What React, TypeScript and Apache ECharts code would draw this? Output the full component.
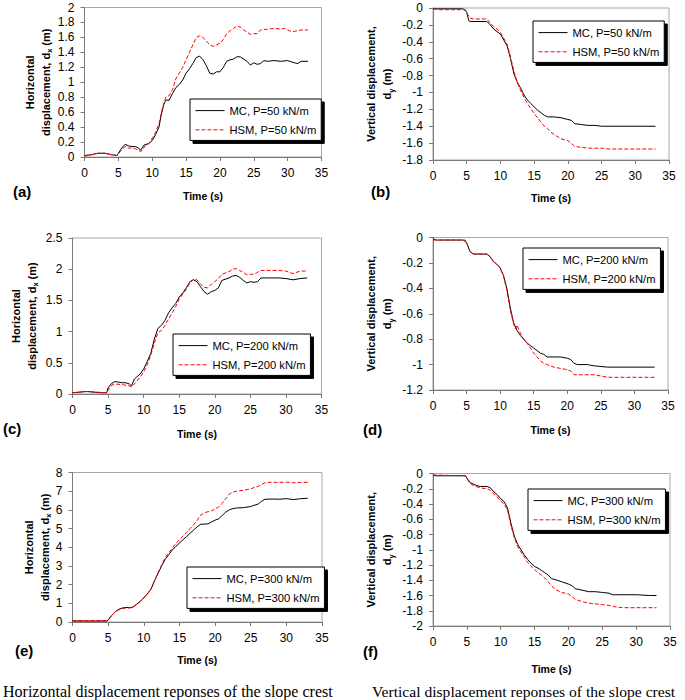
import React, { useEffect, useRef } from "react";
import * as echarts from "echarts";

// ---------------- DATA (time s, displacement m) ----------------
const timeTicks = [0, 5, 10, 15, 20, 25, 30, 35];

const aMC: [number, number][] = [[0,0.02],[1,0.03],[2,0.05],[3,0.05],[4,0.03],[4.8,0.02],[5,0.05],[5.5,0.12],[6,0.17],[6.5,0.15],[7,0.14],[7.5,0.14],[8,0.12],[8.3,0.09],[8.8,0.16],[9.5,0.18],[10,0.22],[10.5,0.3],[11,0.4],[11.3,0.55],[11.7,0.7],[12,0.76],[12.5,0.76],[13,0.85],[13.5,0.93],[14,0.97],[14.5,1.03],[15,1.12],[15.5,1.18],[16,1.25],[16.5,1.33],[17,1.35],[17.5,1.3],[18,1.22],[18.5,1.12],[19,1.11],[19.5,1.14],[20,1.14],[20.5,1.2],[21,1.28],[21.5,1.3],[22,1.31],[22.5,1.34],[23,1.34],[23.5,1.31],[24,1.28],[24.5,1.23],[25,1.26],[25.5,1.24],[26,1.25],[26.5,1.29],[27,1.28],[28,1.29],[29,1.28],[30,1.29],[31,1.26],[31.5,1.25],[32,1.28],[33,1.28]];
const aHSM: [number, number][] = [[0,0.01],[1,0.03],[2,0.05],[3,0.05],[4,0.03],[4.8,0.02],[5,0.04],[5.5,0.1],[6,0.14],[6.5,0.12],[7,0.12],[7.5,0.11],[8,0.09],[8.3,0.07],[9,0.15],[9.5,0.18],[10,0.25],[10.5,0.33],[11,0.45],[11.5,0.65],[12,0.8],[12.5,0.82],[13,0.9],[13.5,1.05],[14,1.12],[14.5,1.2],[15,1.3],[15.5,1.4],[16,1.5],[16.5,1.6],[17,1.62],[17.5,1.6],[18,1.55],[18.5,1.5],[19,1.48],[19.5,1.5],[20,1.52],[20.5,1.57],[21,1.65],[21.5,1.69],[22,1.72],[22.5,1.75],[23,1.74],[23.5,1.7],[24,1.67],[24.5,1.64],[25,1.65],[25.5,1.65],[26,1.7],[27,1.71],[28,1.72],[29,1.71],[29.5,1.72],[30,1.7],[30.5,1.68],[31,1.68],[32,1.7],[33,1.7]];

const bMC: [number, number][] = [[0,-0.01],[4.5,-0.01],[5,-0.05],[5.3,-0.15],[5.5,-0.16],[8,-0.16],[8.5,-0.2],[9,-0.25],[9.5,-0.28],[10,-0.31],[10.5,-0.38],[11,-0.45],[11.5,-0.6],[12,-0.78],[12.5,-0.88],[13,-0.95],[13.5,-1.03],[14,-1.09],[14.5,-1.13],[15,-1.17],[15.5,-1.21],[16,-1.24],[16.5,-1.27],[17,-1.29],[18,-1.29],[19,-1.3],[20,-1.32],[20.5,-1.33],[21,-1.37],[22,-1.38],[23,-1.39],[24,-1.39],[25,-1.4],[33,-1.4]];
const bHSM: [number, number][] = [[0,-0.01],[1,-0.02],[4.8,-0.02],[5,-0.06],[5.5,-0.12],[6,-0.13],[8,-0.13],[8.5,-0.18],[9,-0.22],[9.5,-0.25],[10,-0.29],[10.5,-0.36],[11,-0.43],[11.5,-0.58],[12,-0.75],[12.5,-0.88],[13,-0.98],[13.5,-1.06],[14,-1.13],[14.5,-1.19],[15,-1.25],[15.5,-1.3],[16,-1.35],[16.5,-1.4],[17,-1.43],[17.5,-1.47],[18,-1.5],[19,-1.55],[20,-1.57],[20.5,-1.6],[21,-1.64],[22,-1.65],[23,-1.66],[25,-1.66],[26,-1.67],[30,-1.67],[33,-1.67]];

const cMC: [number, number][] = [[0,0.02],[1,0.03],[2,0.04],[3,0.03],[4,0.02],[4.8,0.02],[5,0.1],[5.5,0.17],[6,0.2],[6.5,0.19],[7,0.18],[7.5,0.18],[8,0.16],[8.3,0.13],[8.7,0.24],[9,0.27],[9.5,0.32],[10,0.4],[10.5,0.52],[11,0.65],[11.5,0.88],[12,1.05],[12.5,1.1],[13,1.18],[13.5,1.3],[14,1.38],[14.5,1.45],[15,1.55],[15.5,1.62],[16,1.7],[16.5,1.8],[17,1.83],[17.5,1.8],[18,1.72],[18.5,1.64],[19,1.6],[19.5,1.64],[20,1.66],[20.5,1.7],[21,1.82],[22,1.86],[22.5,1.89],[23,1.9],[23.5,1.87],[24,1.82],[24.5,1.78],[25,1.8],[25.5,1.79],[26,1.8],[26.5,1.86],[28,1.86],[29,1.86],[30,1.85],[31,1.83],[32,1.85],[33,1.86]];
const cHSM: [number, number][] = [[0,0.02],[2,0.04],[4.8,0.02],[5,0.06],[5.5,0.14],[6,0.16],[7,0.15],[8,0.13],[8.3,0.11],[9,0.2],[9.5,0.27],[10,0.35],[10.5,0.47],[11,0.62],[11.5,0.82],[12,0.98],[12.5,1.02],[13,1.1],[13.5,1.2],[14,1.3],[14.5,1.4],[15,1.52],[15.5,1.6],[16,1.68],[16.5,1.78],[17,1.84],[17.5,1.83],[18,1.76],[18.5,1.71],[19,1.7],[19.5,1.76],[20,1.8],[20.5,1.85],[21,1.92],[22,1.96],[22.5,2.0],[23,2.01],[23.5,1.98],[24,1.95],[24.5,1.91],[25,1.92],[25.5,1.92],[26,1.95],[26.5,1.98],[28,1.98],[29,1.98],[30,1.97],[31,1.93],[32,1.97],[33,1.97]];

const dMC: [number, number][] = [[0,-0.01],[0.5,-0.02],[4.5,-0.02],[5,-0.04],[5.5,-0.11],[6,-0.13],[8,-0.13],[8.5,-0.15],[9,-0.19],[9.5,-0.21],[10,-0.24],[10.5,-0.3],[11,-0.4],[11.5,-0.55],[12,-0.67],[12.5,-0.73],[13,-0.77],[13.5,-0.8],[14,-0.83],[14.5,-0.85],[15,-0.87],[15.5,-0.89],[16,-0.91],[16.5,-0.92],[17,-0.94],[18,-0.94],[19,-0.94],[20,-0.95],[20.5,-0.96],[21,-0.99],[21.5,-1.0],[23,-1.0],[24,-1.01],[26,-1.02],[33,-1.02]];
const dHSM: [number, number][] = [[0,-0.02],[4.8,-0.02],[5,-0.04],[5.5,-0.11],[6,-0.13],[8,-0.13],[8.5,-0.15],[9,-0.19],[9.5,-0.21],[10,-0.24],[10.5,-0.3],[11,-0.42],[11.5,-0.57],[12,-0.68],[12.3,-0.72],[12.5,-0.69],[13,-0.75],[13.5,-0.8],[14,-0.83],[14.5,-0.87],[15,-0.91],[15.5,-0.94],[16,-0.97],[16.5,-0.99],[17,-1.0],[18,-1.02],[19,-1.03],[20,-1.04],[20.5,-1.05],[21,-1.08],[22,-1.08],[24,-1.08],[25,-1.09],[26,-1.1],[33,-1.1]];

const eMC: [number, number][] = [[0,0.05],[4.8,0.05],[5,0.1],[5.5,0.35],[6,0.55],[6.5,0.68],[7,0.75],[7.5,0.78],[8,0.77],[8.5,0.8],[9,0.95],[9.5,1.1],[10,1.3],[10.5,1.5],[11,1.75],[11.5,2.2],[12,2.6],[12.5,3.0],[13,3.35],[13.5,3.6],[14,3.85],[14.5,4.05],[15,4.22],[15.5,4.4],[16,4.57],[16.5,4.75],[17,4.92],[17.5,5.1],[18,5.23],[19,5.25],[19.5,5.35],[20,5.45],[20.5,5.52],[21,5.7],[21.5,5.88],[22,6.0],[22.5,6.07],[23,6.1],[24,6.12],[25,6.18],[25.5,6.25],[26,6.3],[26.5,6.45],[27,6.57],[28,6.58],[29,6.57],[30,6.6],[31,6.55],[32,6.6],[33,6.62]];
const eHSM: [number, number][] = [[0,0.08],[4.8,0.08],[5,0.12],[5.5,0.35],[6,0.55],[6.5,0.65],[7,0.72],[7.5,0.75],[8,0.75],[8.5,0.78],[9,0.95],[9.5,1.1],[10,1.3],[10.5,1.5],[11,1.78],[11.5,2.2],[12,2.65],[12.5,3.05],[13,3.45],[13.5,3.7],[14,3.95],[14.5,4.2],[15,4.4],[15.5,4.6],[16,4.8],[16.5,5.0],[17,5.2],[17.5,5.45],[18,5.72],[18.5,5.85],[19,5.9],[19.5,5.95],[20,6.05],[20.5,6.15],[21,6.35],[21.5,6.6],[22,6.85],[22.5,6.95],[23,7.0],[24,7.05],[25,7.12],[25.5,7.2],[26,7.25],[26.5,7.35],[27,7.45],[28,7.48],[29,7.47],[30,7.48],[31,7.45],[32,7.47],[33,7.47]];

const fMC: [number, number][] = [[0,-0.02],[0.3,-0.03],[4.8,-0.03],[5,-0.06],[5.5,-0.12],[6,-0.14],[6.5,-0.16],[7,-0.17],[8,-0.17],[8.5,-0.19],[9,-0.24],[9.5,-0.28],[10,-0.33],[10.5,-0.37],[11,-0.45],[11.5,-0.65],[12,-0.82],[12.5,-0.93],[13,-1.0],[13.5,-1.07],[14,-1.13],[14.5,-1.18],[15,-1.22],[15.5,-1.24],[16,-1.27],[16.5,-1.3],[17,-1.33],[17.5,-1.38],[18,-1.39],[19,-1.42],[20,-1.45],[20.5,-1.47],[21,-1.51],[22,-1.53],[23,-1.55],[24,-1.55],[25,-1.56],[26,-1.57],[26.5,-1.59],[27,-1.59],[30,-1.59],[32,-1.6],[33,-1.6]];
const fHSM: [number, number][] = [[0,-0.02],[4.8,-0.03],[5,-0.07],[5.5,-0.13],[6,-0.16],[7,-0.19],[8,-0.2],[8.5,-0.22],[9,-0.27],[9.5,-0.31],[10,-0.36],[10.5,-0.4],[11,-0.48],[11.5,-0.68],[12,-0.84],[12.5,-0.96],[13,-1.03],[13.5,-1.1],[14,-1.17],[14.5,-1.22],[15,-1.26],[15.5,-1.3],[16,-1.33],[16.5,-1.37],[17,-1.42],[17.5,-1.47],[18,-1.52],[19,-1.56],[20,-1.58],[20.5,-1.61],[21,-1.65],[22,-1.68],[23,-1.7],[24,-1.71],[25,-1.72],[26,-1.73],[27,-1.75],[28,-1.76],[33,-1.76]];

const loads = ["50", "50", "200", "200", "300", "300"];
const panelLetters = ["(a)", "(b)", "(c)", "(d)", "(e)", "(f)"];
const yRanges: [number, number, number][] = [[0, 2, 0.2], [-1.8, 0, 0.2], [0, 2.5, 0.5], [-1.2, 0, 0.2], [0, 8, 1], [-2, 0, 0.2]];
const mcData = [aMC, bMC, cMC, dMC, eMC, fMC];
const hsmData = [aHSM, bHSM, cHSM, dHSM, eHSM, fHSM];
const captions = ["Horizontal displacement reponses of the slope crest", "Vertical displacement reponses of the slope crest"];

// ---------------- LAYOUT ----------------
const grids = [
  { left: 84.5, top: 7.5, width: 237, height: 149.5 },
  { left: 433, top: 8, width: 236, height: 152 },
  { left: 72.5, top: 238, width: 249, height: 156 },
  { left: 433, top: 237.5, width: 235, height: 152.5 },
  { left: 72.5, top: 472.5, width: 249.5, height: 149.5 },
  { left: 433, top: 473.5, width: 237, height: 152.5 },
];
const yNameGaps = [31, 38, 33, 38, 20, 38];
const xNameGaps = [33, 32, 34, 34, 32, 37];
const legendPos = [
  { left: 190, top: 99 },
  { left: 533, top: 21 },
  { left: 173, top: 334 },
  { left: 523, top: 248 },
  { left: 187, top: 567 },
  { left: 528, top: 489 },
];
const letterPos = [[13, 193], [371, 193], [3, 430], [363, 431], [15, 652], [363, 653]];

const SANS = "'Liberation Sans', Arial, sans-serif";
const SERIF = "'Liberation Serif', 'Times New Roman', serif";
const AXIS_COLOR = "#7a7a7a";
const BORDER_COLOR = "#a8a8a8";

export default function App() {
  const ref = useRef<HTMLDivElement>(null);
  useEffect(() => {
    if (!ref.current) return;
    const chart = echarts.init(ref.current, null, { renderer: "svg" });

    const grid = grids.map((g) => ({
      ...g,
      show: true,
      borderColor: BORDER_COLOR,
      borderWidth: 1,
      backgroundColor: "transparent",
      containLabel: false,
      outerBoundsMode: "none",
    }));

    const xAxis = grids.map((_, i) => ({
      type: "value",
      gridIndex: i,
      min: timeTicks[0],
      max: timeTicks[timeTicks.length - 1],
      interval: 5,
      name: "Time (s)",
      nameLocation: "middle",
      nameGap: xNameGaps[i],
      nameMoveOverlap: false,
      nameTextStyle: { fontFamily: SANS, fontWeight: "bold", fontSize: 10.5, color: "#000" },
      axisLine: { show: true, onZero: false, lineStyle: { color: AXIS_COLOR, width: 1 } },
      axisTick: { show: true, inside: false, length: 4, lineStyle: { color: AXIS_COLOR } },
      axisLabel: { fontFamily: SANS, fontSize: 12, color: "#000", margin: 10 },
      splitLine: { show: false },
    }));

    const horizName = "Horizontal\n{t|displacement, d}{s|x}{t| (m)}";
    const vertName = "Vertical displacement,\n{t|d}{s|y}{t| (m)}";

    const yAxis = grids.map((_, i) => ({
      type: "value",
      gridIndex: i,
      min: yRanges[i][0],
      max: yRanges[i][1],
      interval: yRanges[i][2],
      name: i % 2 === 0 ? horizName : vertName,
      nameLocation: "middle",
      nameRotate: 90,
      nameGap: yNameGaps[i],
      nameMoveOverlap: false,
      nameTextStyle: {
        fontFamily: SANS,
        fontWeight: "bold",
        fontSize: 11,
        color: "#000",
        lineHeight: 16,
        rich: {
          t: { fontFamily: SANS, fontWeight: "bold", fontSize: 11, color: "#000", lineHeight: 16 },
          s: { fontFamily: SANS, fontWeight: "bold", fontSize: 7.5, color: "#000", lineHeight: 16, verticalAlign: "bottom" },
        },
      },
      axisLine: { show: true, onZero: false, lineStyle: { color: AXIS_COLOR, width: 1 } },
      axisTick: { show: true, inside: false, length: 4, lineStyle: { color: AXIS_COLOR } },
      axisLabel: { fontFamily: SANS, fontSize: 12, color: "#000", margin: 10 },
      splitLine: { show: false },
    }));

    const series: any[] = [];
    const legend: any[] = [];
    grids.forEach((_, i) => {
      const mcName = `MC, P=${loads[i]} kN/m`;
      const hsmName = `HSM, P=${loads[i]} kN/m`;
      series.push({
        type: "line",
        name: mcName,
        xAxisIndex: i,
        yAxisIndex: i,
        data: mcData[i],
        symbol: "none",
        showSymbol: false,
        lineStyle: { color: "#000", width: 1, type: "solid" },
        itemStyle: { color: "#000" },
        z: 2,
      });
      series.push({
        type: "line",
        name: hsmName,
        xAxisIndex: i,
        yAxisIndex: i,
        data: hsmData[i],
        symbol: "none",
        showSymbol: false,
        lineStyle: { color: "#ff0000", width: 1, type: [4, 2] },
        itemStyle: { color: "#ff0000" },
        z: 3,
      });
      legend.push({
        data: [mcName, hsmName],
        left: legendPos[i].left,
        top: legendPos[i].top,
        orient: "vertical",
        itemWidth: 29,
        itemHeight: 14,
        itemGap: 8,
        padding: [6, 5, 5, 5],
        backgroundColor: "#fff",
        borderColor: "#000",
        borderWidth: 1,
        borderRadius: 0,
        shadowColor: "#000",
        shadowBlur: 0,
        shadowOffsetX: 3,
        shadowOffsetY: 3,
        selectedMode: false,
        itemStyle: { opacity: 0, borderWidth: 0 },
        lineStyle: { width: 1 },
        textStyle: { fontFamily: SANS, fontSize: 11.2, color: "#000" },
      });
    });

    const graphic: any[] = [];
    panelLetters.forEach((l, i) => {
      graphic.push({
        type: "text",
        left: letterPos[i][0],
        top: letterPos[i][1] - 9,
        style: { text: l, fontFamily: SANS, fontWeight: "bold", fontSize: 15, fill: "#000" },
      });
    });
    graphic.push({
      type: "text",
      left: 3,
      top: 683,
      style: { text: captions[0], fontFamily: SERIF, fontSize: 16, fill: "#000" },
    });
    graphic.push({
      type: "text",
      left: 372,
      top: 683.5,
      style: { text: captions[1], fontFamily: SERIF, fontSize: 15.6, fill: "#000" },
    });

    chart.setOption({
      animation: false,
      backgroundColor: "#fff",
      grid,
      xAxis,
      yAxis,
      legend,
      series,
      graphic,
    } as any);

    return () => chart.dispose();
  }, []);

  return (
    <div
      ref={ref}
      style={{ position: "absolute", left: 0, top: 0, width: 685, height: 700, background: "#fff" }}
    />
  );
}
